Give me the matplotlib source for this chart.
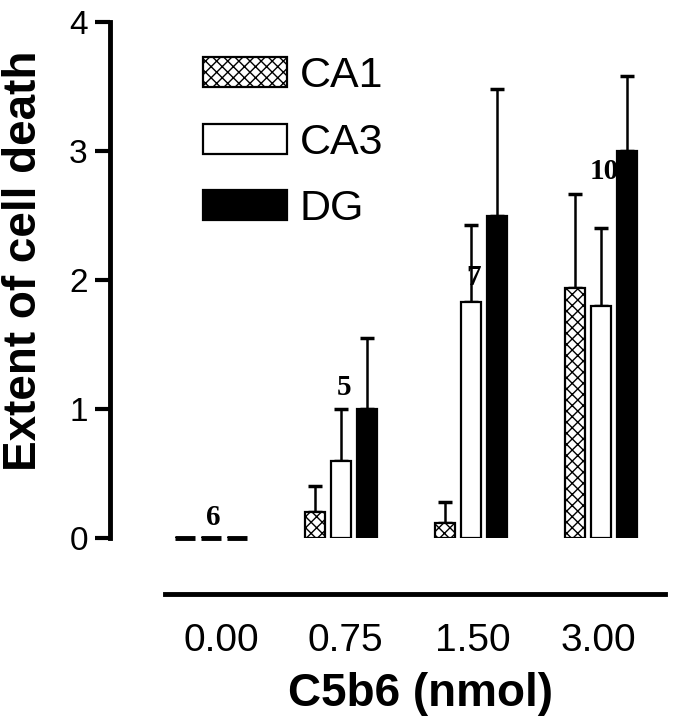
import matplotlib
matplotlib.use("Agg")
import matplotlib.pyplot as plt
import numpy as np
from matplotlib.patches import Patch

plt.rcParams['font.family'] = ['Liberation Sans', 'DejaVu Sans']
plt.rcParams['hatch.linewidth'] = 1.0

doses = ["0.00", "0.75", "1.50", "3.00"]
series = ["CA1", "CA3", "DG"]
ca1 = [0.0, 0.20, 0.12, 1.94]
ca3 = [0.0, 0.60, 1.83, 1.80]
dg = [0.0, 1.00, 2.50, 3.00]
ca1_err = [0.0, 0.20, 0.16, 0.73]
ca3_err = [0.0, 0.40, 0.60, 0.60]
dg_err = [0.0, 0.55, 0.98, 0.58]
n_labels = ["6", "5", "7", "10"]
n_label_y = [0.10, 1.11, 1.96, 2.78]

fig = plt.figure(figsize=(6.9, 7.2), dpi=100)
ax = fig.add_axes([110/690, 1-538/720, (665-110)/690, (538-22)/720])

x = np.arange(len(doses))
w = 0.154
off = 0.2
styles = [dict(facecolor='white', hatch='xxx'), dict(facecolor='white'), dict(facecolor='black')]
vals = [ca1, ca3, dg]
errs = [ca1_err, ca3_err, dg_err]
for i, (v, e, st) in enumerate(zip(vals, errs, styles)):
    xs = x + (i - 1) * off
    ax.bar(xs, v, width=w, edgecolor='black', linewidth=1.6, **st, zorder=2)
    mask = np.array(v) > 0
    ax.errorbar(xs[mask], np.array(v)[mask], yerr=[np.zeros(mask.sum()), np.array(e)[mask]],
                fmt='none', ecolor='black', elinewidth=1.8, capsize=5, capthick=2.5, zorder=1)
    for xi, vi in zip(xs, v):
        if vi == 0:
            ax.plot([xi - w/2, xi + w/2], [0, 0], color='black', lw=3.5, solid_capstyle='butt',
                    clip_on=False, zorder=3)

for xi, lab, yy in zip(x, n_labels, n_label_y):
    ax.text(xi + 0.02, yy, lab, ha='center', va='baseline',
            fontsize=21, fontweight='bold', family='Liberation Serif')

ax.set_ylim(0, 4)
ax.set_xlim(-0.777, 3.49)
ax.set_yticks([0, 1, 2, 3, 4])
ax.tick_params(axis='y', length=11, width=3, labelsize=24, pad=5)
ax.spines['left'].set_linewidth(3.5)
ax.spines['top'].set_visible(False)
ax.spines['right'].set_visible(False)
ax.spines['bottom'].set_position(('outward', 40))
ax.spines['bottom'].set_linewidth(3.5)
ax.spines['bottom'].set_bounds(-0.354, 3.49)
label_shift = np.array([0.08, 0.03, 0.015, -0.02])
ax.set_xticks(x + label_shift)
ax.set_xticklabels(doses)
ax.tick_params(axis='x', length=0, labelsize=28, pad=21)

ax.set_ylabel("Extent of cell death", fontsize=33, fontweight='bold')
ax.yaxis.set_label_coords((46-110)/555, (538-261)/516)
ax.set_xlabel("C5b6 (nmol)", fontsize=33, fontweight='bold')
ax.xaxis.set_label_coords((420-110)/555, (538-672)/516)

handles = [Patch(edgecolor='black', linewidth=1.6, **st) for st in styles]
leg = ax.legend(handles, series, loc='upper left', bbox_to_anchor=((203-110)/555, (538-56)/516),
                frameon=False, fontsize=31, handlelength=1.95, handleheight=0.7,
                labelspacing=0.62, handletextpad=0.3, borderpad=0, borderaxespad=0)

fig.savefig("out.png", dpi=100)
